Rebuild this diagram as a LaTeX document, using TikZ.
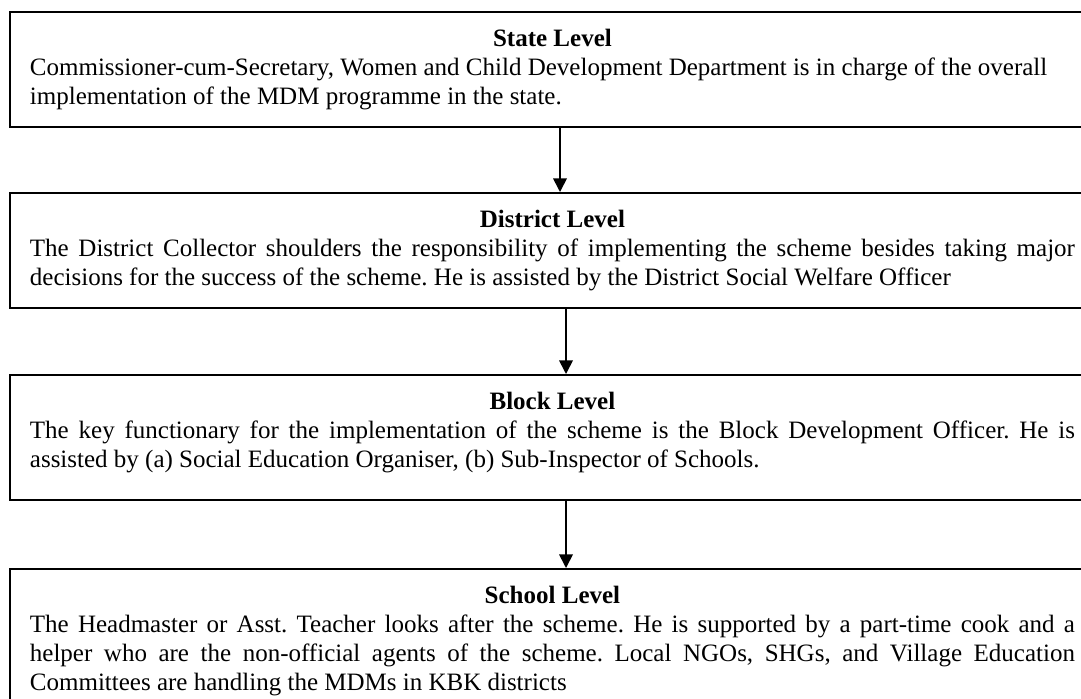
\documentclass[tikz,border=0pt]{standalone}
\usepackage{fontspec}
\setmainfont{Liberation Serif}
\usetikzlibrary{arrows.meta}
\frenchspacing

\begin{document}
\begin{tikzpicture}[x=0.48pt, y=-0.48pt,
    level/.style={draw, line width=0.9pt, anchor=north west,
        inner xsep=9.6pt, inner ysep=0pt, text width=501.6pt, align=justify,
        text height=16.8pt, font=\fontsize{12}{13.8}\selectfont},
    down/.style={line width=0.8pt, -{Triangle[length=6.5pt,width=6.5pt]}}]
    \useasboundingbox (0,0) rectangle (1081,698);
    \clip (0,0) rectangle (1081,698);

    % the four levels, top to bottom
    \node[level, text depth=38.4pt] at (9,11) (State) {\centerline{\bfseries State Level}
        Commissioner-cum-Secretary, Women and Child Development Department is in charge of the overall\\
        implementation of the MDM programme in the state.};
    \node[level, text depth=38.4pt] at (9,192) (District) {\centerline{\bfseries District Level}
        The District Collector shoulders the responsibility of implementing the scheme besides taking major\linebreak
        decisions for the success of the scheme. He is assisted by the District Social Welfare Officer};
    \node[level, text depth=43.2pt] at (9,374) (Block) {\centerline{\bfseries Block Level}
        The key functionary for the implementation of the scheme is the Block Development Officer. He is\linebreak
        assisted by (a) Social Education Organiser, (b) Sub-Inspector of Schools.};
    \node[level, text depth=67.2pt] at (9,568) (School) {\centerline{\bfseries School Level}
        The Headmaster or Asst. Teacher looks after the scheme. He is supported by a part-time cook and a\linebreak
        helper who are the non-official agents of the scheme. Local NGOs, SHGs, and Village Education\linebreak
        Committees are handling the MDMs in KBK districts};

    \draw[down] ([xshift=264.48pt]State.south west) -- ([xshift=264.48pt]District.north west);
    \draw[down] ([xshift=267.36pt]District.south west) -- ([xshift=267.36pt]Block.north west);
    \draw[down] ([xshift=267.36pt]Block.south west) -- ([xshift=267.36pt]School.north west);
\end{tikzpicture}
\end{document}
